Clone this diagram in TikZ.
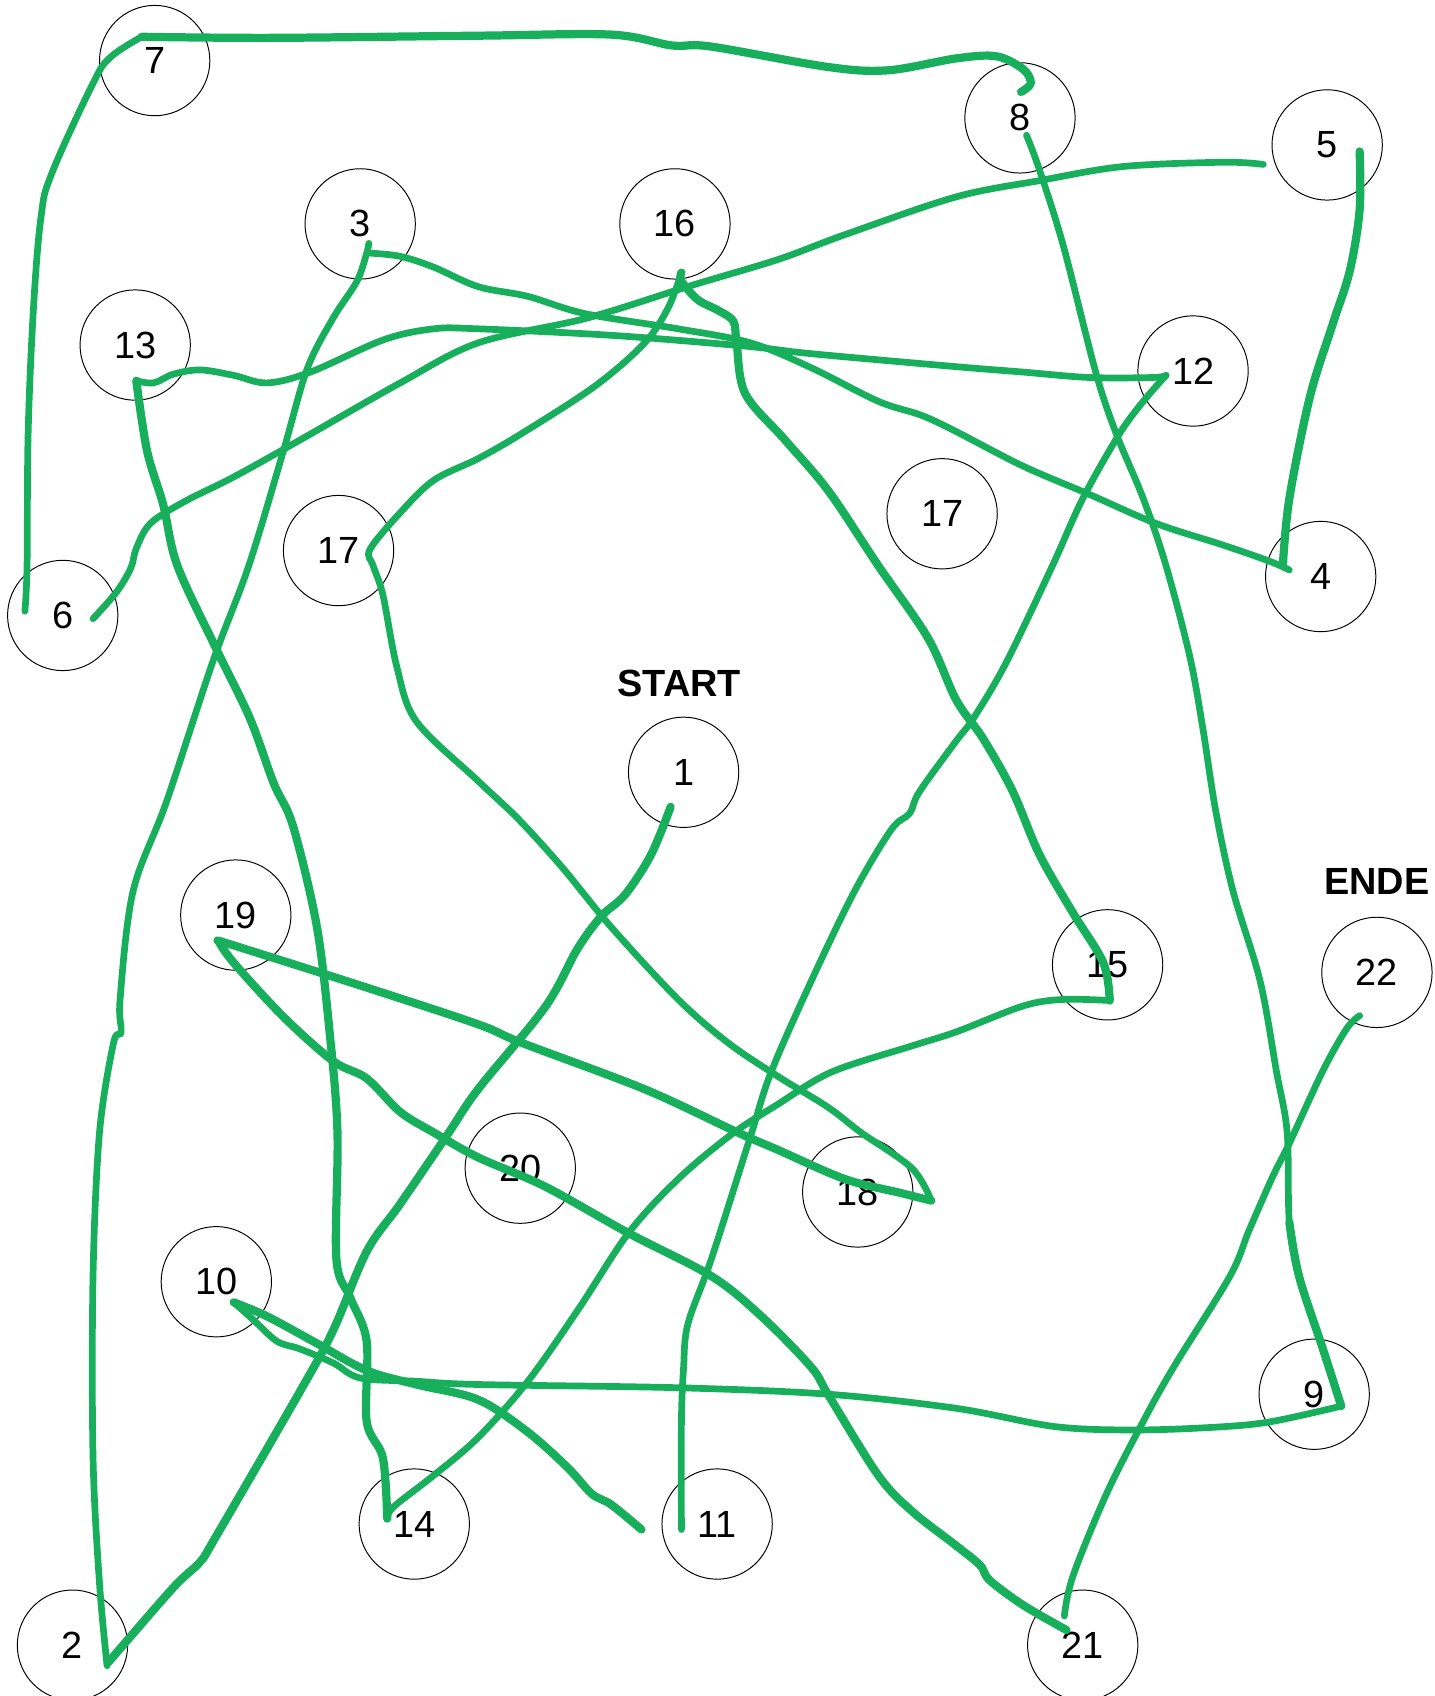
\documentclass[tikz,border=0pt]{standalone}
\usepackage{fontspec}
\setmainfont{Liberation Sans}
\definecolor{pathgreen}{RGB}{24,175,92}
\begin{document}
\begin{tikzpicture}[x=0.5pt,y=-0.5pt,
  numcircle/.style={draw=black,line width=0.45pt,circle,minimum size=51pt,inner sep=0pt,
    font=\fontsize{17.5}{20}\selectfont},
  title/.style={font=\fontsize{17.5}{20}\selectfont\bfseries,inner sep=0pt},
  ink/.style={draw=pathgreen,line width=3.1pt,line cap=round,line join=round},
  inkthick/.style={ink,line width=3.8pt}]
\useasboundingbox (0,0) rectangle (1326,1568);
% dots
\node[numcircle] (c7) at (143,56) {7};
\node[numcircle] (c8) at (943,109) {8};
\node[numcircle] (c5) at (1227,134) {5};
\node[numcircle] (c3) at (333,207) {3};
\node[numcircle] (c16) at (624,207) {16};
\node[numcircle] (c13) at (125,319) {13};
\node[numcircle] (c12) at (1103,343) {12};
\node[numcircle] (c17r) at (871,475) {17};
\node[numcircle] (c17) at (313,509) {17};
\node[numcircle] (c4) at (1221,533) {4};
\node[numcircle] (c6) at (58,569) {6};
\node[title] (start) at (628,632) {START};
\node[numcircle] (c1) at (632,714) {1};
\node[title] (ende) at (1273,815) {ENDE};
\node[numcircle] (c19) at (218,846) {19};
\node[numcircle] (c15) at (1024,892) {15};
\node[numcircle] (c22) at (1273,899) {22};
\node[numcircle] (c20) at (481,1080) {20};
\node[numcircle] (c18) at (793,1102) {18};
\node[numcircle] (c10) at (200,1185) {10};
\node[numcircle] (c9) at (1215,1289) {9};
\node[numcircle] (c14) at (383,1409) {14};
\node[numcircle] (c11) at (663,1409) {11};
\node[numcircle] (c2) at (67,1521) {2};
\node[numcircle] (c21) at (1001,1521) {21};
% hand drawn path
% 1 -> 2
\draw[inkthick] plot[smooth,tension=0.55] coordinates {(620,746) (602,790) (578,827) (556,847) (534,877) (504,931) (442,1007) (413,1050) (370,1113) (339,1157) (308,1230) (277,1287) (200,1420) (185,1444) (160,1468) (100,1537)};
% 2 -> 3
\draw[ink] plot[smooth,tension=0.55] coordinates {(99,1540) (92,1464) (86,1347) (86,1180) (92,1047) (105,964) (112,954) (111,924) (123,824) (154,741) (197,611) (230,523) (262,417) (284,341) (308,294) (330,260) (339,234) (341,225)};
% 3 -> 4
\draw[ink] plot[smooth,tension=0.55] coordinates {(342,234) (370,237) (401,247) (442,265) (488,274) (541,290) (627,304) (694,317) (750,340) (812,371) (852,384) (884,399) (946,431) (1007,457) (1069,484) (1131,504) (1174,519) (1192,527)};
% 4 -> 5
\draw[inkthick] plot[smooth,tension=0.55] coordinates {(1186,523) (1192,461) (1211,367) (1232,300) (1248,250) (1257,194) (1257,140)};
% 5 -> 6
\draw[ink] plot[smooth,tension=0.55] coordinates {(1168,152) (1131,150) (1038,154) (961,167) (884,182) (781,217) (719,240) (639,264) (543,294) (442,317) (370,354) (277,407) (216,441) (170,464) (139,484) (126,507) (121,525) (108,547) (86,572)};
% 6 -> 7
\draw[ink] plot[smooth,tension=0.6] coordinates {(23,565) (25,523) (26,401) (31,284) (38,200) (48,160) (86,77) (102,53) (131,34)};
% 7 -> 8
\draw[inkthick] plot[smooth,tension=0.55] coordinates {(131,34) (250,35) (442,33) (565,32) (621,42) (657,43) (766,62) (821,65) (884,54) (921,52) (946,64) (953,77) (944,85)};
% 8 -> 9
\draw[ink] plot[smooth,tension=0.55] coordinates {(949,125) (961,157) (983,227) (1013,344) (1032,401) (1057,461) (1078,523) (1100,607) (1112,673) (1124,750) (1140,824) (1165,907) (1180,990) (1190,1047) (1192,1130) (1201,1180) (1223,1247) (1240,1300)};
\draw[inkthick] plot[smooth,tension=0.55] coordinates {(1192,1130) (1201,1180) (1223,1247) (1240,1300)};
% 9 -> 10
\draw[ink] plot[smooth,tension=0.55] coordinates {(1240,1300) (1177,1314) (1131,1319) (1053,1322) (976,1319) (884,1302) (766,1289) (627,1283) (442,1280) (385,1277) (333,1274) (308,1260) (277,1247) (256,1240) (234,1220) (216,1204)};
% 10 -> 11
\draw[inkthick] plot[smooth,tension=0.55] coordinates {(216,1204) (247,1217) (293,1242) (339,1267) (385,1280) (442,1294) (488,1324) (525,1357) (547,1381) (565,1391) (593,1414)};
% 11 -> 12
\draw[ink] plot[smooth,tension=0.55] coordinates {(630,1414) (630,1314) (632,1264) (636,1224) (658,1163) (694,1050) (713,991) (750,907) (790,824) (824,767) (841,752) (850,732) (884,685) (900,664) (930,613) (973,523) (1001,461) (1035,401) (1057,371) (1078,347)};
% 12 -> 13
\draw[ink] plot[smooth,tension=0.55] coordinates {(1078,347) (1066,349) (1007,349) (946,344) (884,339) (750,327) (689,320) (565,310) (442,304) (401,304) (355,314) (287,344) (247,354) (216,347) (185,342) (160,346) (142,354) (126,352)};
% 13 -> 14
\draw[inkthick] plot[smooth,tension=0.55] coordinates {(126,352) (136,417) (151,467) (164,523) (200,600) (231,664) (253,724) (271,764) (293,857) (305,957) (312,1047) (311,1164) (324,1200) (339,1240) (339,1314) (354,1348) (358,1404)};
% 14 -> 15
\draw[ink] plot[smooth,tension=0.55] coordinates {(358,1404) (364,1393) (401,1364) (442,1329) (488,1277) (535,1210) (581,1140) (627,1090) (676,1049) (719,1021) (769,991) (843,967) (884,954) (946,930) (983,924) (1026,925)};
% 15 -> 16
\draw[inkthick] plot[smooth,tension=0.55] coordinates {(1026,925) (1020,890) (992,844) (961,790) (936,731) (909,683) (884,647) (858,590) (812,523) (766,454) (726,407) (689,364) (681,317) (678,297) (664,287) (645,277) (630,260) (630,252)};
% 16 -> 17
\draw[ink] plot[smooth,tension=0.55] coordinates {(630,252) (618,284) (596,317) (550,357) (482,401) (442,424) (401,444) (370,474) (342,508) (345,523) (354,550) (367,617) (385,667) (442,722) (479,757) (519,801) (565,857) (627,924) (673,964) (719,995) (766,1024) (796,1047) (843,1080) (861,1110)};
% 18 -> 19
\draw[inkthick] plot[smooth,tension=0.55] coordinates {(861,1110) (833,1103) (781,1090) (719,1063) (682,1047) (596,1007) (482,964) (442,947) (339,913) (216,874) (202,870)};
% 19 -> 20 -> 21
\draw[inkthick] plot[smooth,tension=0.55] coordinates {(202,870) (216,890) (262,940) (308,981) (339,997) (370,1028) (401,1047) (442,1070) (504,1097) (581,1140) (658,1180) (704,1217) (750,1264) (766,1290) (812,1364) (843,1397) (884,1429) (906,1447) (915,1461) (946,1484) (986,1507)};
% 21 -> 22
\draw[ink] plot[smooth,tension=0.55] coordinates {(984,1494) (992,1457) (1023,1381) (1057,1314) (1085,1264) (1137,1180) (1155,1137) (1177,1087) (1192,1057) (1223,990) (1245,951) (1257,939)};
\end{tikzpicture}
\end{document}
